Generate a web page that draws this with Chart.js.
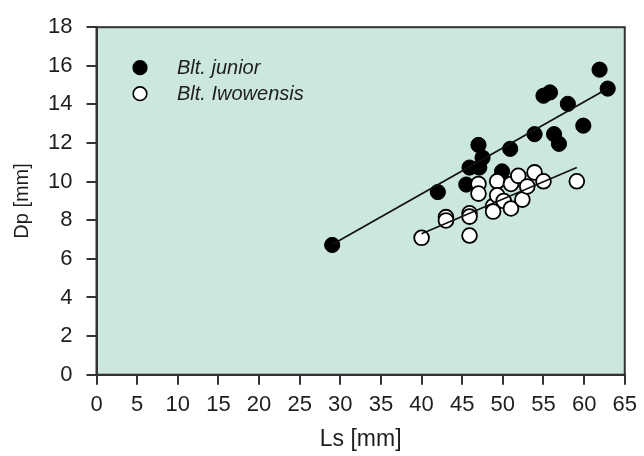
<!DOCTYPE html>
<html>
<head>
<meta charset="utf-8">
<script src="https://cdn.jsdelivr.net/npm/chart.js@4/dist/chart.umd.min.js"></script>
<style>
  html, body { margin: 0; padding: 0; background: #ffffff; }
  #wrap { width: 644px; height: 456px; position: relative; }
</style>
</head>
<body>
<div id="wrap"><canvas id="c" width="644" height="456"></canvas></div>
<script>
// Standard length (Ls) vs. depth (Dp), both in mm
const juniorLs = [29.0, 42.0, 45.5, 45.9, 47.1, 47.5, 47.0, 49.9, 50.9, 53.9, 56.3, 56.9, 55.0, 55.8, 58.0, 59.9, 61.9, 62.9];
const juniorDp = [6.72, 9.46, 9.85, 10.73, 10.73, 11.24, 11.9, 10.53, 11.7, 12.46, 12.46, 11.96, 14.45, 14.62, 14.03, 12.9, 15.8, 14.82];

const iwoLs = [40.0, 43.0, 43.0, 45.9, 45.9, 45.9, 47.0, 47.0, 48.8, 48.8, 49.3, 49.3, 50.1, 51.0, 51.0, 51.9, 52.4, 53.0, 53.9, 55.0, 59.1];
const iwoDp = [7.09, 8.16, 7.99, 8.36, 8.19, 7.21, 9.88, 9.38, 8.73, 8.45, 10.02, 9.29, 9.0, 9.88, 8.61, 10.3, 9.07, 9.75, 10.48, 10.02, 10.02];

// Linear fits, given by their end points
const juniorFitLs = [29.0, 62.9];
const juniorFitDp = [6.75, 14.82];
const iwoFitLs = [40.0, 59.1];
const iwoFitDp = [7.3, 10.73];

const xTicks = [0, 5, 10, 15, 20, 25, 30, 35, 40, 45, 50, 55, 60, 65];
const yTicks = [0, 2, 4, 6, 8, 10, 12, 14, 16, 18];

const seriesNames = ['Blt. junior', 'Blt. Iwowensis'];

const toPts = (xs, ys) => xs.map((x, i) => ({ x: x, y: ys[i] }));

const FONT = "'Liberation Sans', Arial, Helvetica, sans-serif";
const INK = '#1e1e1e';
const FRAME = '#333333';

const plotBackground = {
  id: 'plotBackground',
  beforeDraw(chart) {
    const { ctx, chartArea: a } = chart;
    ctx.save();
    ctx.fillStyle = '#cbe7e0';
    ctx.fillRect(a.left, a.top, a.right - a.left, a.bottom - a.top);
    ctx.restore();
  },
  afterDraw(chart) {
    const { ctx, chartArea: a } = chart;
    ctx.save();
    ctx.strokeStyle = FRAME;
    ctx.lineWidth = 2;
    ctx.strokeRect(a.left, a.top, a.right - a.left, a.bottom - a.top);
    ctx.restore();
  }
};

// Legend drawn inside the plot area, upper left
const insideLegend = {
  id: 'insideLegend',
  afterDraw(chart) {
    const { ctx, chartArea: a } = chart;
    const entries = [
      { label: seriesNames[0], fill: '#000000' },
      { label: seriesNames[1], fill: '#ffffff' }
    ];
    ctx.save();
    ctx.font = 'italic 20px ' + FONT;
    ctx.textBaseline = 'middle';
    ctx.textAlign = 'left';
    entries.forEach((e, i) => {
      const cx = a.left + 43.5;
      const cy = a.top + 40.5 + i * 26;
      ctx.beginPath();
      ctx.arc(cx, cy, 6.8, 0, Math.PI * 2);
      ctx.fillStyle = e.fill;
      ctx.fill();
      ctx.lineWidth = 1.6;
      ctx.strokeStyle = '#000000';
      ctx.stroke();
      ctx.fillStyle = INK;
      ctx.fillText(e.label, a.left + 80.5, cy + 1);
    });
    ctx.restore();
  }
};

const tickValues = (vals) => function (scale) {
  scale.ticks = vals.map(v => ({ value: v }));
};

new Chart(document.getElementById('c'), {
  type: 'scatter',
  data: {
    datasets: [
      {
        type: 'line',
        label: seriesNames[0] + ' fit',
        data: toPts(juniorFitLs, juniorFitDp),
        borderColor: '#111111',
        borderWidth: 1.7,
        pointRadius: 0,
        fill: false
      },
      {
        type: 'line',
        label: seriesNames[1] + ' fit',
        data: toPts(iwoFitLs, iwoFitDp),
        borderColor: '#111111',
        borderWidth: 1.7,
        pointRadius: 0,
        fill: false
      },
      {
        label: seriesNames[1],
        data: toPts(iwoLs, iwoDp),
        backgroundColor: '#ffffff',
        borderColor: '#000000',
        borderWidth: 1.8,
        pointRadius: 7.4
      },
      {
        label: seriesNames[0],
        data: toPts(juniorLs, juniorDp),
        backgroundColor: '#000000',
        borderColor: '#000000',
        borderWidth: 1,
        pointRadius: 7.6
      }
    ]
  },
  options: {
    responsive: false,
    animation: false,
    events: [],
    layout: { padding: { top: 20, right: 16, left: 0, bottom: 0 } },
    plugins: {
      legend: { display: false },
      tooltip: { enabled: false }
    },
    scales: {
      x: {
        type: 'linear',
        min: 0,
        max: 65,
        afterBuildTicks: tickValues(xTicks),
        afterFit(scale) { scale.height = 81.3; },
        ticks: {
          color: INK,
          font: { family: FONT, size: 22 },
          padding: 7,
          maxRotation: 0,
          autoSkip: false
        },
        grid: {
          drawOnChartArea: false,
          drawTicks: true,
          tickLength: 10,
          color: FRAME,
          lineWidth: 2
        },
        border: { display: true, color: FRAME, width: 2 },
        title: {
          display: true,
          text: 'Ls [mm]',
          color: INK,
          font: { family: FONT, size: 23 },
          padding: { top: 0, bottom: 3 }
        }
      },
      y: {
        type: 'linear',
        min: 0,
        max: 18,
        afterBuildTicks: tickValues(yTicks),
        afterFit(scale) { scale.width = 96.5; },
        ticks: {
          color: INK,
          font: { family: FONT, size: 22 },
          padding: 14,
          autoSkip: false
        },
        grid: {
          drawOnChartArea: false,
          drawTicks: true,
          tickLength: 10,
          color: FRAME,
          lineWidth: 2
        },
        border: { display: true, color: FRAME, width: 2 },
        title: {
          display: true,
          text: 'Dp [mm]',
          color: INK,
          font: { family: FONT, size: 20 },
          padding: { top: 10, bottom: 0 }
        }
      }
    }
  },
  plugins: [plotBackground, insideLegend]
});
</script>
</body>
</html>
